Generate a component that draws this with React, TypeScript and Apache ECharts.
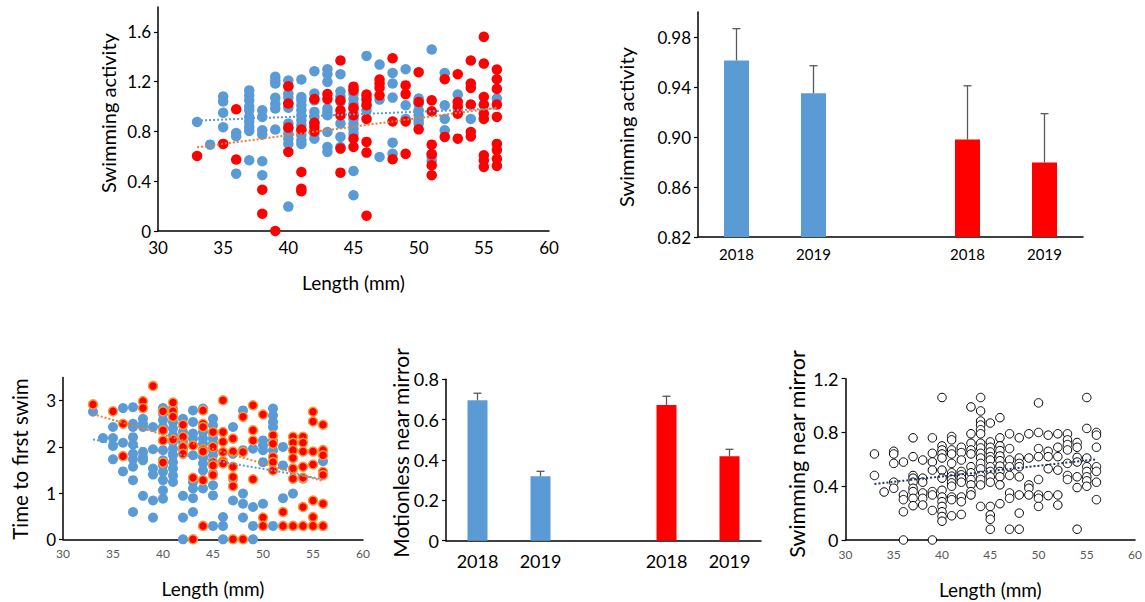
import React, { useEffect, useRef } from 'react';
import * as echarts from 'echarts';

const FONT = 'Lato, "Open Sans", sans-serif';
const BLUE = '#5B9BD5';
const RED = '#FF0000';
const ORANGE = '#ED7D31';

// ---------- Panel 1: Swimming activity vs length ----------
const swimBlue: [number, number[]][] = [
  [33, [0.876]],
  [34, [0.694]],
  [35, [1.08, 1.04, 0.95, 0.834]],
  [36, [0.788, 0.761, 0.461]],
  [37, [1.13, 1.09, 1.05, 1.0, 0.97, 0.917, 0.876, 0.836, 0.804, 0.568]],
  [38, [0.97, 0.917, 0.809, 0.775, 0.56, 0.448]],
  [39, [1.24, 1.21, 1.185, 1.07, 1.02, 0.984, 0.815]],
  [40, [1.21, 1.163, 1.104, 1.072, 1.024, 0.99, 0.863, 0.823, 0.783, 0.742, 0.7, 0.196]],
  [41, [1.217, 1.077, 1.05, 1.01, 0.97, 0.93, 0.89, 0.85, 0.809, 0.77, 0.729, 0.7]],
  [42, [1.284, 1.104, 1.05, 0.957, 0.917, 0.863, 0.783, 0.742]],
  [43, [1.3, 1.26, 1.198, 0.984, 0.957, 0.93, 0.796, 0.675, 0.635]],
  [44, [1.26, 1.12, 1.08, 1.04, 0.863, 0.756, 0.675]],
  [45, [1.14, 1.1, 1.06, 1.02, 0.98, 0.94, 0.9, 0.86, 0.82, 0.78, 0.482, 0.287]],
  [46, [1.407, 1.08, 1.02, 0.97]],
  [47, [1.337, 1.056, 0.595]],
  [48, [1.27, 1.185, 1.072, 0.71, 0.62]],
  [49, [1.3, 1.01, 0.9]],
  [50, [1.064, 1.024, 0.97, 0.93, 0.89, 0.863]],
  [51, [1.458, 0.62, 0.595, 0.563]],
  [52, [1.27, 1.01, 0.9, 0.809]],
  [53, [1.096]],
  [54, [0.9]],
  [56, [1.064]],
];
const swimRed: [number, number[]][] = [
  [33, [0.603]],
  [35, [0.7]],
  [36, [0.978, 0.574]],
  [38, [0.332, 0.139]],
  [39, [0.0]],
  [40, [1.163, 1.024, 0.831, 0.635]],
  [41, [0.815, 0.474, 0.34, 0.319]],
  [42, [1.06, 0.87, 0.836, 0.8]],
  [43, [1.1, 1.06]],
  [44, [1.37, 1.05, 0.97, 0.93, 0.662, 0.469]],
  [45, [1.16, 1.13, 0.99, 0.93, 0.742, 0.675]],
  [46, [1.096, 1.056, 1.01, 0.9, 0.716, 0.63, 0.123]],
  [47, [1.217, 1.185, 1.15, 1.09]],
  [48, [1.388, 0.88, 0.576]],
  [49, [1.17, 1.1, 0.88, 0.62]],
  [50, [1.276, 1.037, 0.817]],
  [51, [1.05, 0.962, 0.694, 0.616, 0.528, 0.448]],
  [52, [1.22, 0.756]],
  [53, [1.26, 1.037, 0.997, 0.943, 0.742]],
  [54, [1.37, 1.185, 1.15, 1.016, 0.796, 0.76]],
  [55, [1.56, 1.345, 1.077, 1.016, 0.943, 0.9, 0.608, 0.568, 0.515]],
  [56, [1.297, 1.22, 1.142, 1.016, 0.917, 0.7, 0.65, 0.58, 0.523]],
];
const swimTrendBlue: [number, number][] = [[33, 0.887], [56, 0.984]];
const swimTrendRed: [number, number][] = [[33, 0.673], [56, 0.99]];
const p1YTicks = [0, 0.4, 0.8, 1.2, 1.6];

// ---------- Panel 2: Swimming activity by year ----------
const yearLabels = ['2018', '2019', '', '2018', '2019'];
const swimMeans = [0.9613, 0.935, null, 0.898, 0.8797];
const swimErrors = [0.0254, 0.022, null, 0.043, 0.039];
const yearColors = [BLUE, BLUE, null, RED, RED];
const p2YTicks = [0.82, 0.86, 0.9, 0.94, 0.98];

// ---------- Panel 3: Time to first swim vs length ----------
const timeBlue: [number, number[]][] = [
  [33, [2.76]],
  [34, [2.19]],
  [35, [2.43, 2.19, 2.02, 1.73]],
  [36, [2.84, 2.09, 1.47]],
  [37, [2.86, 2.5, 2.43, 2.21, 2.05, 1.85, 1.73, 1.57, 1.28, 0.59]],
  [38, [2.61, 2.5, 2.43, 1.89, 1.78, 1.71, 0.94]],
  [39, [2.43, 1.95, 1.53, 1.4, 0.84, 0.47]],
  [40, [2.84, 2.72, 2.58, 2.43, 2.14, 1.93, 1.71, 1.6, 1.46, 1.28, 1.06, 0.88]],
  [41, [2.83, 2.68, 2.54, 2.4, 2.25, 2.11, 1.96, 1.82, 1.67, 1.53, 1.38, 1.24]],
  [42, [2.61, 2.47, 2.32, 2.11, 1.95, 0.94, 0.47, 0]],
  [43, [2.79, 2.54, 2.29, 2.18, 1.82, 1.24, 1.1, 0.89, 0.59]],
  [44, [2.83, 2.47, 2.32, 2.18, 2.07, 1.78, 1.64, 1.49, 1.1]],
  [45, [2.61, 2.47, 2.29, 2.18, 2.07, 1.93, 1.82, 1.64, 1.42, 1.17, 0.95, 0.29]],
  [46, [0.48, 0.29, 0]],
  [47, [2.43, 1.85, 1.31, 0.84]],
  [48, [2.79, 1.93, 0.99, 0.77, 0.47]],
  [49, [1.96, 0.7, 0.29, 0]],
  [50, [2.14, 2.03, 1.93, 1.67, 0.77]],
  [51, [2.83, 2.68, 2.54, 2.43, 2.14, 1.93, 0.29]],
  [52, [2.0, 1.6, 0.89]],
  [53, [0.99]],
  [54, [1.31]],
  [56, [1.69]],
];
const timeRed: [number, number[]][] = [
  [33, [2.92]],
  [35, [2.77]],
  [36, [2.5, 1.8]],
  [38, [2.99, 2.84]],
  [39, [3.32]],
  [40, [2.77, 2.36, 2.14, 1.66]],
  [41, [2.96, 2.77, 2.65, 2.16]],
  [42, [2.48, 2.22, 2.0, 1.85]],
  [43, [2.03, 1.33, 0]],
  [44, [2.79, 2.5, 2.43, 1.95, 1.9, 1.28, 0.29]],
  [45, [2.32, 2.0, 1.67, 1.6, 1.39]],
  [46, [3.01, 2.32, 2.11, 1.89, 1.69, 1.64]],
  [47, [2.18, 1.9, 1.57, 1.35, 1.15, 0]],
  [48, [2.65, 1.89, 0]],
  [49, [2.9, 2.36, 2.14, 1.3]],
  [50, [2.7, 0.47, 0.29]],
  [51, [2.25, 2.07, 1.78, 1.67, 1.49]],
  [52, [0.59, 0.29]],
  [53, [2.22, 2.09, 1.93, 1.76, 1.53, 1.31, 0.29]],
  [54, [2.22, 2.09, 1.9, 1.57, 1.33, 0.7, 0.29]],
  [55, [2.76, 2.55, 1.9, 1.62, 0.84, 0.48, 0.29]],
  [56, [2.48, 1.93, 1.82, 1.46, 1.39, 0.77, 0.29]],
];
const timeTrendBlue: [number, number][] = [[33, 2.16], [56, 1.3]];
const timeTrendRed: [number, number][] = [[33, 2.71], [56, 1.26]];
const p3YTicks = [0, 1, 2, 3];

// ---------- Panel 4: Motionless near mirror by year ----------
const motionMeans = [0.696, 0.319, null, 0.673, 0.418];
const motionErrors = [0.035, 0.025, null, 0.043, 0.035];
const p4YTicks = [0, 0.2, 0.4, 0.6, 0.8];

// ---------- Panel 5: Swimming near mirror vs length ----------
const mirrorAll: [number, number[]][] = [
  [33, [0.64, 0.48]],
  [34, [0.357]],
  [35, [0.66, 0.64, 0.57, 0.43, 0.385]],
  [36, [0.58, 0.335, 0.3, 0.21, 0]],
  [37, [0.76, 0.62, 0.48, 0.46, 0.43, 0.385, 0.36, 0.31, 0.255]],
  [38, [0.595, 0.46, 0.43, 0.35, 0.31, 0.26]],
  [39, [0.76, 0.645, 0.58, 0.52, 0.36, 0.335, 0.22, 0]],
  [40, [1.06, 0.7, 0.67, 0.64, 0.61, 0.52, 0.46, 0.37, 0.32, 0.285, 0.25, 0.21, 0.175, 0.14]],
  [41, [0.77, 0.745, 0.67, 0.64, 0.57, 0.5, 0.475, 0.45, 0.425, 0.4, 0.32, 0.3, 0.18]],
  [42, [0.69, 0.65, 0.595, 0.51, 0.485, 0.46, 0.43, 0.32, 0.285, 0.19]],
  [43, [0.99, 0.79, 0.72, 0.67, 0.64, 0.545, 0.5, 0.45, 0.41, 0.36, 0.335]],
  [44, [1.06, 0.96, 0.885, 0.855, 0.82, 0.79, 0.72, 0.685, 0.645, 0.61, 0.57, 0.53, 0.48, 0.45, 0.41, 0.25]],
  [45, [0.87, 0.73, 0.69, 0.655, 0.62, 0.595, 0.545, 0.51, 0.47, 0.43, 0.25, 0.186, 0.154, 0.08]],
  [46, [0.91, 0.76, 0.7, 0.665, 0.625, 0.59, 0.55, 0.51, 0.47, 0.41, 0.27]],
  [47, [0.79, 0.68, 0.595, 0.545, 0.48, 0.35, 0.31, 0.08]],
  [48, [0.76, 0.61, 0.57, 0.545, 0.47, 0.335, 0.2, 0.08]],
  [49, [0.79, 0.61, 0.41, 0.385, 0.335]],
  [50, [1.02, 0.8, 0.68, 0.62, 0.45, 0.335, 0.31, 0.25]],
  [51, [0.78, 0.66, 0.62, 0.53, 0.33]],
  [52, [0.79, 0.69, 0.62, 0.52, 0.335, 0.26]],
  [53, [0.79, 0.745, 0.71, 0.67, 0.57, 0.48, 0.45]],
  [54, [0.725, 0.69, 0.615, 0.58, 0.47, 0.39, 0.08]],
  [55, [1.06, 0.83, 0.61, 0.545, 0.51, 0.47, 0.44, 0.4]],
  [56, [0.8, 0.78, 0.69, 0.545, 0.51, 0.43, 0.3]],
];
const mirrorTrend: [number, number][] = [[33, 0.417], [56, 0.6]];
const p5YTicks = [0, 0.4, 0.8, 1.2];

const lengthTicks = [30, 35, 40, 45, 50, 55, 60];

function flatten(cols: [number, number[]][]): [number, number][] {
  const out: [number, number][] = [];
  cols.forEach(([x, ys]) => ys.forEach((y) => out.push([x, y])));
  return out;
}

const axisLine = { show: true, lineStyle: { color: '#000', width: 1.5 } };

function lengthAxis(gridIndex: number, labelColor: string, labelSize: number, nameGap: number) {
  return {
    gridIndex,
    type: 'value',
    min: 30,
    max: 60,
    interval: 5,
    axisLine: { ...axisLine, onZero: false },
    axisTick: { show: false },
    splitLine: { show: false },
    axisLabel: { color: labelColor, fontSize: labelSize, fontFamily: FONT, margin: 8, customValues: lengthTicks },
    name: 'Length (mm)',
    nameLocation: 'middle',
    nameGap,
    nameTextStyle: { color: '#000', fontSize: 19, fontFamily: FONT },
  };
}

function valueYAxis(gridIndex: number, min: number, max: number, ticks: number[], fontSize: number, fmt?: (v: number) => string) {
  return {
    gridIndex,
    type: 'value',
    min,
    max,
    axisLine: { ...axisLine, onZero: false },
    axisTick: { show: true, length: 4, inside: false, lineStyle: { color: '#000', width: 1.2 }, customValues: ticks },
    splitLine: { show: false },
    axisLabel: {
      color: '#000',
      fontSize,
      fontFamily: FONT,
      margin: 7,
      customValues: ticks,
      formatter: fmt ? (v: number) => fmt(v) : (v: number) => String(Math.round(v * 100) / 100),
    },
  };
}

function yearAxis(gridIndex: number, fontSize: number, margin: number) {
  return {
    gridIndex,
    type: 'category',
    data: yearLabels,
    axisLine: { ...axisLine, onZero: false },
    axisTick: { show: false },
    axisLabel: { color: '#000', fontSize, fontFamily: FONT, margin, interval: 0 },
    splitLine: { show: false },
  };
}

function barSeries(axisIdx: number, means: (number | null)[], barWidth: number) {
  return {
    type: 'bar',
    xAxisIndex: axisIdx,
    yAxisIndex: axisIdx,
    barWidth,
    clip: true,
    data: means.map((m, i) =>
      m == null ? '-' : { value: m, itemStyle: { color: yearColors[i] as string } }
    ),
  };
}

function errorSeries(axisIdx: number, means: (number | null)[], errs: (number | null)[]) {
  const data: number[][] = [];
  means.forEach((m, i) => {
    if (m != null && errs[i] != null) data.push([i, m, m + (errs[i] as number)]);
  });
  return {
    type: 'custom',
    xAxisIndex: axisIdx,
    yAxisIndex: axisIdx,
    z: 5,
    encode: { x: 0, y: [1, 2] },
    data,
    renderItem: (_params: any, api: any) => {
      const i = api.value(0);
      const lo = api.coord([i, api.value(1)]);
      const hi = api.coord([i, api.value(2)]);
      const st = { stroke: '#595959', lineWidth: 1.3 };
      return {
        type: 'group',
        children: [
          { type: 'line', shape: { x1: lo[0], y1: lo[1], x2: hi[0], y2: hi[1] }, style: st },
          { type: 'line', shape: { x1: hi[0] - 4, y1: hi[1], x2: hi[0] + 4, y2: hi[1] }, style: st },
        ],
      };
    },
  };
}

function scatter(axisIdx: number, cols: [number, number[]][], itemStyle: any, size: number, z = 2) {
  return {
    type: 'scatter',
    xAxisIndex: axisIdx,
    yAxisIndex: axisIdx,
    symbolSize: size,
    itemStyle: { opacity: 1, ...itemStyle },
    z,
    data: flatten(cols),
  };
}

function trend(axisIdx: number, data: [number, number][], color: string) {
  return {
    type: 'line',
    xAxisIndex: axisIdx,
    yAxisIndex: axisIdx,
    showSymbol: false,
    symbol: 'none',
    z: 6,
    lineStyle: { color, width: 2, type: [2, 2] },
    data,
  };
}

function yTitle(text: string, x: number, y: number, size: number) {
  return {
    type: 'text',
    x,
    y,
    rotation: Math.PI / 2,
    style: {
      text,
      fill: '#000',
      fontSize: size,
      fontFamily: FONT,
      align: 'center',
      verticalAlign: 'middle',
      textAlign: 'center',
      textVerticalAlign: 'middle',
    },
  };
}

export default function App() {
  const ref = useRef<HTMLDivElement>(null);
  useEffect(() => {
    if (!ref.current) return;
    const chart = echarts.init(ref.current, undefined, { renderer: 'svg' });
    const option: any = {
      animation: false,
      backgroundColor: '#fff',
      textStyle: { fontFamily: FONT },
      grid: [
        { left: 158, top: 7, width: 391, height: 224 },
        { left: 698, top: 12, width: 385, height: 225 },
        { left: 63, top: 377.6, width: 300, height: 161.7 },
        { left: 446, top: 379.3, width: 315, height: 161.4 },
        { left: 845.5, top: 378.7, width: 290, height: 161.3 },
      ],
      xAxis: [
        lengthAxis(0, '#000', 17, 42),
        yearAxis(1, 15, 9),
        lengthAxis(2, '#595959', 12, 40),
        yearAxis(3, 18, 11),
        lengthAxis(4, '#595959', 12, 40),
      ],
      yAxis: [
        valueYAxis(0, 0, 1.8, p1YTicks, 17),
        valueYAxis(1, 0.82, 1.0, p2YTicks, 17, (v) => v.toFixed(2)),
        valueYAxis(2, 0, 3.5, p3YTicks, 17),
        valueYAxis(3, 0, 0.8, p4YTicks, 18),
        valueYAxis(4, 0, 1.2, p5YTicks, 18),
      ],
      graphic: [
        yTitle('Swimming activity', 108, 113, 20),
        yTitle('Swimming activity', 626, 127, 20),
        yTitle('Time to first swim', 20, 459, 20.5),
        yTitle('Motionless near mirror', 400, 453, 21),
        yTitle('Swimming near mirror', 797, 454, 21.5),
      ],
      series: [
        scatter(0, swimBlue, { color: BLUE }, 10.5, 2),
        scatter(0, swimRed, { color: RED }, 10.5, 3),
        trend(0, swimTrendBlue, BLUE),
        trend(0, swimTrendRed, ORANGE),

        barSeries(1, swimMeans, 25),
        errorSeries(1, swimMeans, swimErrors),

        scatter(2, timeBlue, { color: BLUE }, 10, 2),
        scatter(2, timeRed, { color: RED, borderColor: '#F79A3A', borderWidth: 1.5 }, 9, 3),
        trend(2, timeTrendBlue, BLUE),
        trend(2, timeTrendRed, ORANGE),

        barSeries(3, motionMeans, 20),
        errorSeries(3, motionMeans, motionErrors),

        scatter(4, mirrorAll, { color: '#fff', borderColor: '#000', borderWidth: 1 }, 8.5, 2),
        trend(4, mirrorTrend, '#1F3864'),
      ],
    };
    chart.setOption(option);
    return () => chart.dispose();
  }, []);
  return (
    <div
      ref={ref}
      style={{ position: 'fixed', left: 0, top: 0, width: 1145, height: 602, background: '#fff' }}
    />
  );
}
